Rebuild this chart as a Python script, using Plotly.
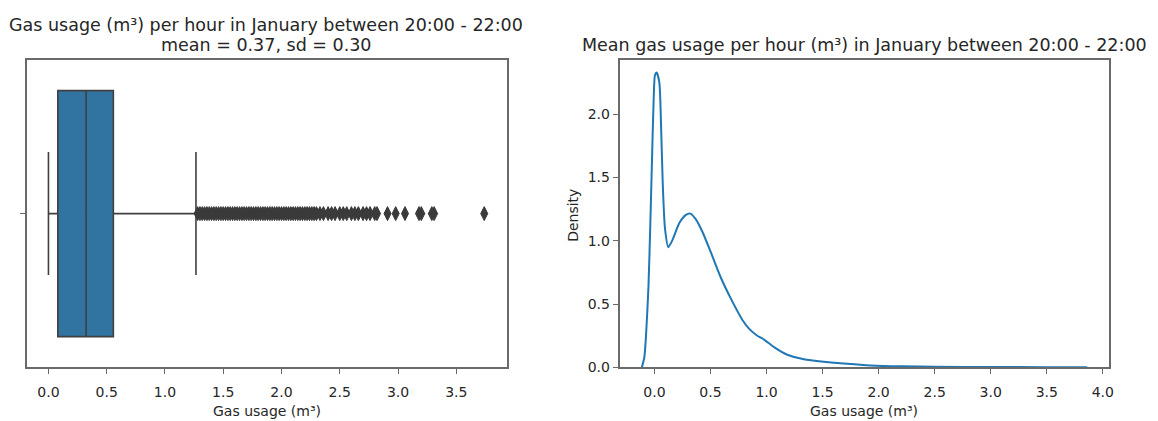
import plotly.graph_objects as go

W, H = 1158, 421

# ---- data: left boxplot (precomputed stats) ----
box_q1 = 0.08
box_median = 0.323
box_q3 = 0.557
box_lowerfence = 0.0
box_upperfence = 1.266
outliers = [1.28, 1.30, 1.32, 1.34, 1.36, 1.38, 1.40, 1.42, 1.44, 1.46, 1.48, 1.50,
            1.52, 1.54, 1.56, 1.58, 1.60, 1.62, 1.64, 1.66, 1.68, 1.70, 1.72, 1.74,
            1.76, 1.78, 1.80, 1.82, 1.84, 1.86, 1.88, 1.90, 1.92, 1.94, 1.96, 1.98,
            2.00, 2.02, 2.04, 2.06, 2.08, 2.10, 2.12, 2.14, 2.16, 2.18, 2.20, 2.22,
            2.24, 2.26, 2.28, 2.30, 2.33, 2.36, 2.40, 2.43, 2.46, 2.50, 2.53, 2.56,
            2.60, 2.63, 2.66, 2.70, 2.73, 2.76, 2.80, 2.82, 2.91, 2.98, 3.06, 3.18,
            3.20, 3.29, 3.31, 3.74]

# ---- data: right KDE curve ----
kde_x = [-0.112, -0.09, -0.075, -0.053, -0.036, -0.021, -0.009, 0.005, 0.02, 0.044,
         0.059, 0.074, 0.094, 0.124, 0.163, 0.222, 0.281, 0.32, 0.37, 0.429, 0.503,
         0.592, 0.681, 0.785, 0.85, 0.918, 0.978, 1.067, 1.185, 1.333, 1.51, 1.72,
         1.93, 2.2, 2.5, 3.0, 3.5, 3.861]
kde_y = [0.0, 0.08, 0.25, 0.64, 1.15, 1.66, 2.05, 2.31, 2.33, 2.25,
         1.92, 1.46, 1.10, 0.95, 1.01, 1.14, 1.205, 1.215, 1.17, 1.07, 0.91,
         0.71, 0.545, 0.375, 0.30, 0.25, 0.22, 0.16, 0.10, 0.065, 0.045, 0.028,
         0.015, 0.008, 0.005, 0.003, 0.002, 0.001]

left_ticks = [0.0, 0.5, 1.0, 1.5, 2.0, 2.5, 3.0, 3.5]
right_xticks = [0.0, 0.5, 1.0, 1.5, 2.0, 2.5, 3.0, 3.5, 4.0]
right_yticks = [0.0, 0.5, 1.0, 1.5, 2.0]

title_left_1 = "Gas usage (m³) per hour in January between 20:00 - 22:00"
title_left_2 = "mean = 0.37, sd = 0.30"
title_right = "Mean gas usage per hour (m³) in January between 20:00 - 22:00"
xlabel = "Gas usage (m³)"
ylabel_right = "Density"

FONT = "DejaVu Sans"
TXT = "#262626"
SPINE = "#6a6a6a"

def px_x(p):
    return p / W

def px_y(p):
    return 1 - p / H

fig = go.Figure()
fig.add_trace(go.Box(
    orientation="h", y=[0], q1=[box_q1], median=[box_median], q3=[box_q3],
    lowerfence=[box_lowerfence], upperfence=[box_upperfence],
    width=0.8, whiskerwidth=0.5, fillcolor="#3274a1",
    line=dict(color="#3f3f3f", width=1.6), boxpoints=False,
    xaxis="x", yaxis="y", hoverinfo="skip"))
fig.add_trace(go.Scatter(
    x=outliers, y=[0] * len(outliers), mode="markers",
    marker=dict(symbol="diamond-tall", size=10, color="#3a3a3a",
                line=dict(width=1, color="#3a3a3a")),
    xaxis="x", yaxis="y"))
fig.add_trace(go.Scatter(
    x=kde_x, y=kde_y, mode="lines",
    line=dict(color="#1f77b4", width=2, shape="spline", smoothing=0.6),
    xaxis="x2", yaxis="y2"))

top, bottom = 61, 374.5
ydom = [px_y(bottom), px_y(top)]
axis_common = dict(showline=True, mirror=True, linecolor=SPINE, linewidth=1.6,
                   ticks="outside", ticklen=5, tickwidth=1.2, tickcolor=SPINE,
                   showgrid=False, zeroline=False,
                   tickfont=dict(family=FONT, size=14, color=TXT))

fig.update_layout(
    width=W, height=H, margin=dict(l=0, r=0, t=0, b=0),
    paper_bgcolor="white", plot_bgcolor="white", showlegend=False,
    font=dict(family=FONT, color=TXT),
    xaxis=dict(domain=[px_x(26.7), px_x(509)], range=[-0.1875, 3.9375],
               tickvals=left_ticks, ticktext=[f"{v:.1f}" for v in left_ticks],
               anchor="y", ticklabelstandoff=6, **axis_common),
    yaxis=dict(domain=ydom, range=[0.5, -0.5], tickvals=[0], ticktext=[""],
               anchor="x", **axis_common),
    xaxis2=dict(domain=[px_x(621.7), px_x(1113.3)], range=[-0.311, 4.059],
                tickvals=right_xticks, ticktext=[f"{v:.1f}" for v in right_xticks],
                anchor="y2", ticklabelstandoff=6, **axis_common),
    yaxis2=dict(domain=ydom, range=[0, 2.43], tickvals=right_yticks,
                ticktext=[f"{v:.1f}" for v in right_yticks],
                anchor="x2", **axis_common),
)

ann = [
    dict(text=title_left_1, x=px_x(267), y=px_y(25), size=17.5, anchor="middle", shift=0),
    dict(text=title_left_2, x=px_x(267), y=px_y(46), size=17.5, anchor="middle", shift=0),
    dict(text=title_right, x=px_x(867), y=px_y(46), size=17.5, anchor="middle", shift=0),
    dict(text=xlabel, x=px_x(268), y=0, size=14, anchor="bottom", shift=-7),
    dict(text=xlabel, x=px_x(867), y=0, size=14, anchor="bottom", shift=-7),
]
for a in ann:
    fig.add_annotation(text=a["text"], x=a["x"], y=a["y"], xref="paper", yref="paper",
                       xanchor="center", yanchor=a["anchor"], yshift=a["shift"],
                       showarrow=False, borderpad=0,
                       font=dict(family=FONT, size=a["size"], color=TXT))
fig.add_annotation(text=ylabel_right, x=px_x(575), y=px_y(220), xref="paper", yref="paper",
                   xanchor="center", yanchor="middle", showarrow=False, textangle=-90,
                   font=dict(family=FONT, size=14, color=TXT))

fig.write_html("out.html")
